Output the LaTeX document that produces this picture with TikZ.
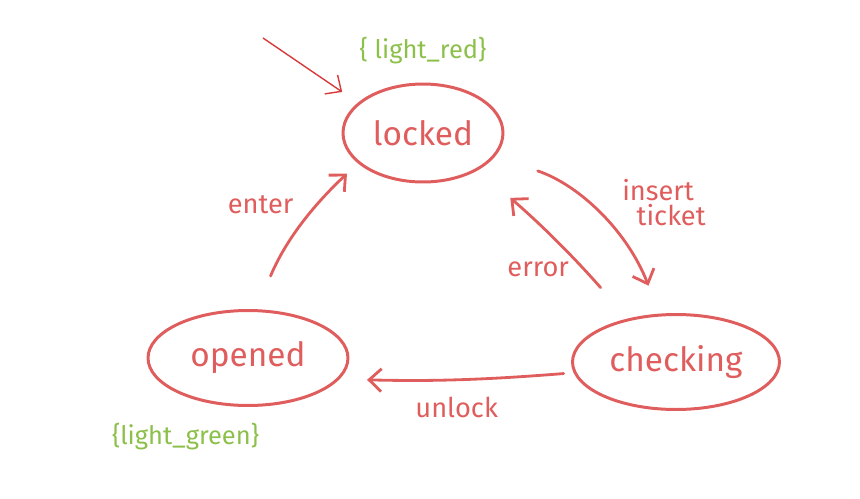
\documentclass[tikz,border=0pt]{standalone}
\usepackage{fontspec}
\setmainfont{Fira Sans}
\usepackage{tikz}
\usetikzlibrary{arrows.meta, positioning, shapes.geometric}
\definecolor{sketchred}{HTML}{E05D5D}
\definecolor{initred}{HTML}{D63A3A}
\definecolor{notegreen}{HTML}{8CC04A}
\tikzset{
>={Straight Barb[length=7pt,width=13pt]}, % open arrow heads
every state/.style={ellipse, draw=sketchred, line width=1.7pt, text=sketchred,
  font=\fontsize{19}{22}\selectfont},
edge/.style={->, draw=sketchred, line width=1.6pt, line cap=round},
lbl/.style={text=sketchred, font=\fontsize{15.5}{17}\selectfont},
note/.style={text=notegreen, font=\fontsize{14.5}{16}\selectfont},
}

\begin{document}
\begin{tikzpicture}[x=0.02cm, y=-0.02cm]
        \useasboundingbox (0,0) rectangle (860,498);
        \node[every state, minimum width=3.2cm, minimum height=1.96cm] (locked) at (423,133) {locked};
        \node[every state, minimum width=4.14cm, minimum height=1.9cm] (checking) at (676,362) {checking};
        \node[every state, minimum width=4cm, minimum height=1.9cm] (opened) at (248,358) {opened};
        \node[note, above=0.25cm of locked] (lockednote) {\{ light\_red\}};
        \node[note, below=0.2cm of opened, xshift=-1.25cm] (openednote) {\{light\_green\}};
        \coordinate (start) at (263,38);

        \draw[->, draw=initred, line width=0.8pt, shorten >=0.38cm] (start) -- (locked.155);
        \draw[edge, shorten <=0.72cm, shorten >=0.3cm] (opened.80) to[bend left=12]
              node[lbl, pos=0.55, above left=2pt] {enter} (locked.205);
        \draw[edge, shorten <=0.9cm, shorten >=0.6cm] (locked.342) to[bend left=25]
              node[lbl, pos=0.4, above right=2pt, xshift=0.65cm, yshift=-0.7cm, align=left] {insert\\[-3pt]\ \ ticket} (checking.109);
        \draw[edge, shorten <=0.82cm, shorten >=0.85cm] (checking.138) to[bend right=4]
              node[lbl, pos=0.3, left=4pt] {error} (locked.326);
        \draw[edge, shorten <=0.2cm, shorten >=0.55cm] (checking.186) to[bend left=3]
              node[lbl, below=6pt] {unlock} (opened.347);
    \end{tikzpicture}
\end{document}
